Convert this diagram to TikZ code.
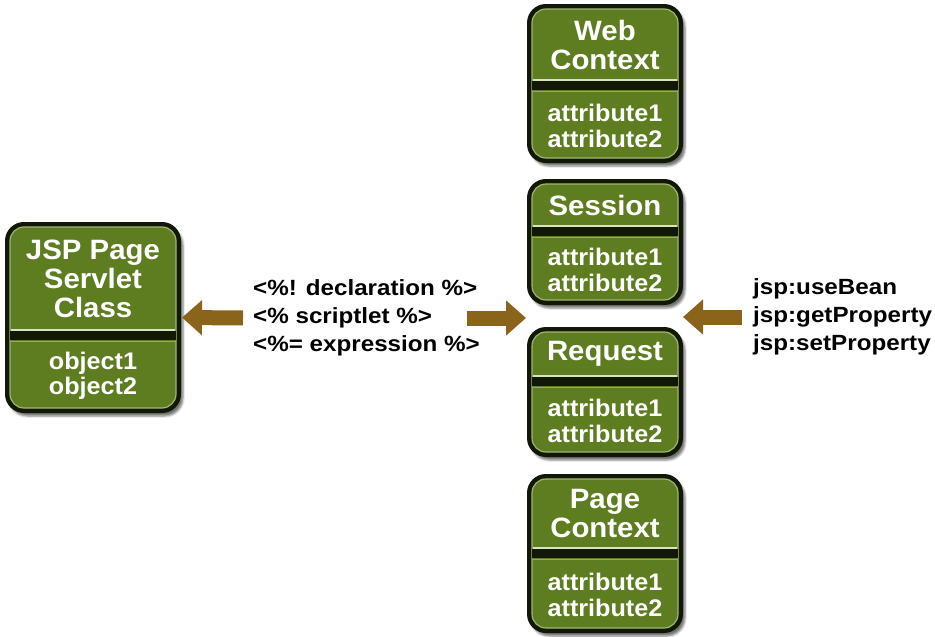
\documentclass[tikz,border=0pt]{standalone}
\usepackage{fontspec}
\setmainfont{Liberation Sans}[FakeStretch=1.05]
\newfontfamily\tagfont{Liberation Sans}[FakeStretch=1.1]
\usetikzlibrary{arrows.meta,shadows.blur}

\definecolor{beangreen}{RGB}{94,124,32}
\definecolor{beanedge}{RGB}{18,24,6}
\definecolor{beanlight}{RGB}{215,228,190}
\definecolor{arrowbrown}{RGB}{138,100,26}

\tikzset{
  boxframe/.style={draw=beanedge, fill=beanedge, line width=2pt, rounded corners=18pt,
    blur shadow={shadow xshift=3pt, shadow yshift=-4pt, shadow opacity=55}},
  boxfill/.style={fill=beangreen, draw=beanlight!55!beangreen, line width=1.2pt, rounded corners=14pt},
  boxtitle/.style={text=white, font=\bfseries\fontsize{28}{29}\selectfont, align=center, inner sep=0pt},
  boxattr/.style={text=white, font=\bfseries\fontsize{24}{25.5}\selectfont, align=center, inner sep=0pt},
  tagtext/.style={font=\tagfont\bfseries\fontsize{22}{28}\selectfont, align=left, anchor=west, inner sep=0pt},
  bigarrow/.style={arrowbrown, line width=15pt, -{Triangle[length=20pt,width=34pt]}},
}

% #1 name, #2 left, #3 top, #4 right, #5 bottom, #6 separator, #7 title, #8 attributes
\newcommand{\beanbox}[8]{%
  \path[boxframe] (#2,#3) rectangle (#4,#5);
  \path[boxfill] (#2+4,#3+4) rectangle (#4-4,#5-4);
  \fill[beanedge] (#2+4,#6+1) rectangle (#4-4,#6+10);
  \draw[beanlight, line width=2pt] (#2+5,#6) -- (#4-5,#6);
  \draw[beanlight!45!beangreen, line width=1pt] (#2+5,#6+11) -- (#4-5,#6+11);
  \node[boxtitle] (#1) at ({(#2+#4)/2},{(#3+#6)/2+2}) {#7};
  \node[boxattr] (#1attr) at ({(#2+#4)/2},{(#6+10+#5)/2}) {#8};
  \coordinate (#1right) at (#4,{(#3+#5)/2});
}

\begin{document}
\begin{tikzpicture}[x=1pt, y=-1pt]
    \useasboundingbox (0,0) rectangle (935,637);

    % scopes
    \beanbox{web}{528}{5}{682}{162}{80}{Web\\Context}{attribute1\\attribute2}
    \beanbox{session}{528}{180}{682}{304}{226}{Session}{attribute1\\attribute2}
    \beanbox{request}{528}{328}{682}{456}{376}{Request}{attribute1\\attribute2}
    \beanbox{page}{528}{475}{682}{632}{548}{Page\\Context}{attribute1\\attribute2}

    % servlet
    \beanbox{jsp}{6}{223}{180}{412}{330}{JSP Page\\Servlet\\Class}{object1\\object2}

    \node[tagtext] (tags) at (253,318) {<\%! declaration \%>\\<\% scriptlet \%>\\<\%= expression \%>};
    \node[tagtext] (actions) at (753,317) {jsp:useBean\\jsp:getProperty\\jsp:setProperty};

    \coordinate (gapleft) at (526,318);
    \coordinate (gapright) at (683,317);

    \draw[bigarrow] ([xshift=-10pt]tags.west) -- ([xshift=2pt]jspright);
    \draw[bigarrow] ([xshift=-13pt]tags.east) -- (gapleft);
    \draw[bigarrow] ([xshift=-11pt]actions.west) -- (gapright);
\end{tikzpicture}
\end{document}
